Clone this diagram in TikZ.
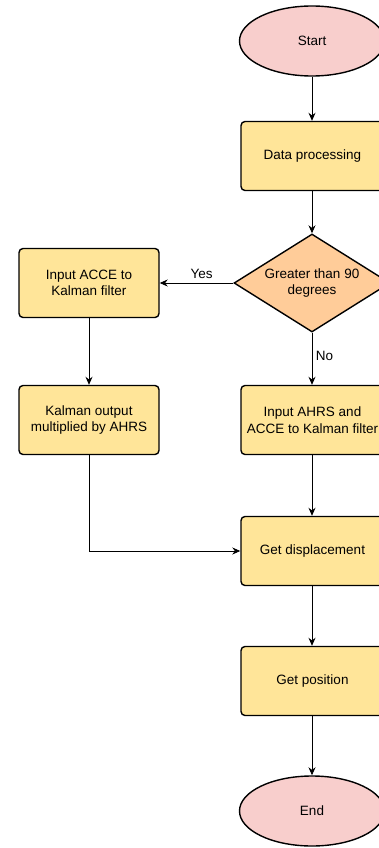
\documentclass[tikz,border=0pt]{standalone}
\usepackage{fontspec}
\setmainfont{Liberation Sans}
\usetikzlibrary{shapes.geometric,arrows.meta}
\definecolor{boxfill}{HTML}{FFE599}
\definecolor{termfill}{HTML}{F8CECC}
\definecolor{testfill}{HTML}{FFCC99}
\tikzset{
  procbox/.style={draw, line width=1.4pt, rounded corners=4pt, fill=boxfill,
    minimum width=143pt, minimum height=69pt, align=center, inner sep=2pt},
  termnode/.style={draw, line width=1.4pt, ellipse, fill=termfill,
    minimum width=145pt, minimum height=70pt},
  testnode/.style={draw, line width=1.4pt, diamond, fill=testfill,
    minimum width=156pt, minimum height=98pt, inner sep=0pt},
  flow/.style={-{Stealth[length=8pt,width=7pt]}, line width=0.9pt},
  every node/.style={font=\fontsize{13.5}{16.5}\selectfont}
}
\begin{document}
\begin{tikzpicture}[x=1pt,y=-1pt]
  \clip (0,0) rectangle (379,848);
  \fill[white] (0,0) rectangle (379,848);
  % right column
  \node[termnode] (start) at (312,41) {Start};
  \node[procbox] (proc) at (312.5,156) {Data processing};
  \node[testnode, label={[align=center]center:Greater than 90\\degrees}] (cond) at (312,283) {};
  \node[procbox] (ahrs) at (312.5,420) {Input AHRS and\\ACCE to Kalman filter};
  \node[procbox] (disp) at (312.5,551) {Get displacement};
  \node[procbox] (pos) at (312.5,681) {Get position};
  \node[termnode] (stop) at (312,811) {End};
  % left column
  \node[procbox, minimum width=140pt] (kin) at (89,283) {Input ACCE to\\Kalman filter};
  \node[procbox, minimum width=140pt] (kout) at (89,420) {Kalman output\\multiplied by AHRS};
  % connectors
  \draw[flow] (start) -- (start |- proc.north);
  \draw[flow] (proc.south -| cond.north) -- (cond.north);
  \draw[flow] (cond.west) -- node[above, pos=0.43, yshift=1pt] {Yes} (kin.east);
  \draw[flow] (cond.south) -- node[right, pos=0.45] {No} (cond.south |- ahrs.north);
  \draw[flow] (kin) -- (kout);
  \draw[flow] (ahrs.south -| cond.south) -- (cond.south |- disp.north);
  \draw[flow] (kout.south) |- (disp.west);
  \draw[flow] (disp.south -| cond.south) -- (cond.south |- pos.north);
  \draw[flow] (pos.south -| cond.south) -- (stop.north);
\end{tikzpicture}
\end{document}
